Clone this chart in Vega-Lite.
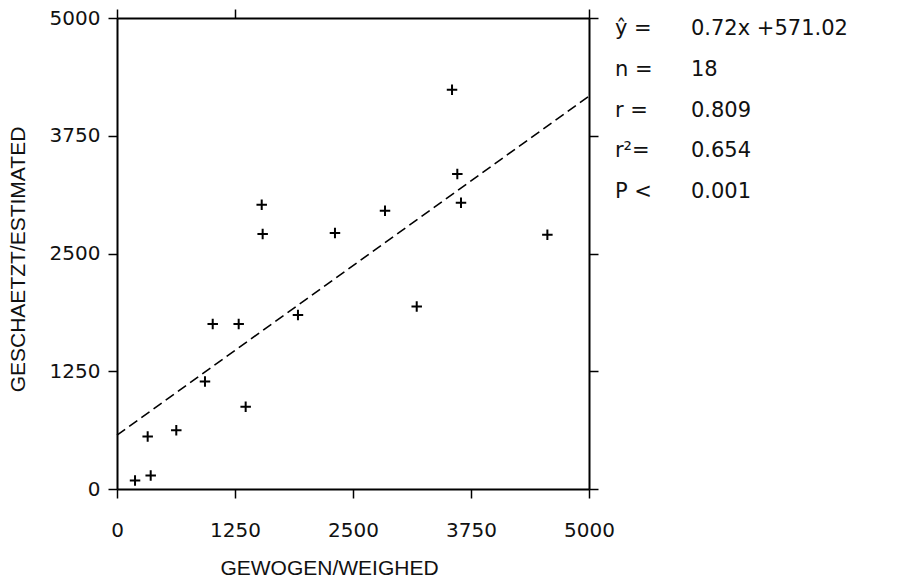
{
  "$schema": "https://vega.github.io/schema/vega-lite/v6.json",
  "width": 472,
  "height": 471,
  "autosize": {"type": "none"},
  "padding": {"left": 117, "top": 18, "right": 329, "bottom": 93},
  "background": "white",
  "config": {"view": {"stroke": null}},
  "datasets": {
    "points": [
      {"weighed": 191, "estimated": 91},
      {"weighed": 357, "estimated": 144},
      {"weighed": 325, "estimated": 558},
      {"weighed": 628, "estimated": 624},
      {"weighed": 932, "estimated": 1142},
      {"weighed": 1014, "estimated": 1752},
      {"weighed": 1289, "estimated": 1752},
      {"weighed": 1363, "estimated": 874},
      {"weighed": 1533, "estimated": 3018},
      {"weighed": 1543, "estimated": 2707},
      {"weighed": 1917, "estimated": 1847},
      {"weighed": 2309, "estimated": 2718},
      {"weighed": 2839, "estimated": 2954},
      {"weighed": 3175, "estimated": 1938},
      {"weighed": 3549, "estimated": 4239},
      {"weighed": 3605, "estimated": 3344},
      {"weighed": 3644, "estimated": 3039},
      {"weighed": 4559, "estimated": 2700}
    ],
    "fit": [
      {"x_start": 0, "y_start": 571.02, "x_end": 5000, "y_end": 4171.02}
    ],
    "stats": [
      {"line": 1, "label": "ŷ =", "value": "0.72x +571.02"},
      {"line": 2, "label": "n =", "value": "18"},
      {"line": 3, "label": "r =", "value": "0.809"},
      {"line": 4, "label": "r²=", "value": "0.654"},
      {"line": 5, "label": "P <", "value": "0.001"}
    ]
  },
  "resolve": {
    "scale": {"y": "independent"},
    "axis": {"x": "independent", "y": "independent"}
  },
  "layer": [
    {
      "data": {"name": "points"},
      "mark": {
        "type": "point",
        "shape": "M-1,0H1M0,-1V1",
        "size": 110,
        "filled": false,
        "stroke": "black",
        "strokeWidth": 2,
        "opacity": 1
      },
      "encoding": {
        "x": {
          "field": "weighed",
          "type": "quantitative",
          "scale": {"domain": [0, 5000], "nice": false, "zero": false},
          "axis": {
            "orient": "bottom",
            "values": [0, 1250, 2500, 3750, 5000],
            "format": "d",
            "grid": false,
            "domainColor": "black",
            "domainWidth": 2,
            "tickColor": "black",
            "tickWidth": 1.5,
            "tickSize": 9,
            "labelFont": "DejaVu Sans",
            "labelFontSize": 20,
            "labelColor": "#111",
            "labelPadding": 22,
            "labelFlush": false,
            "title": "GEWOGEN/WEIGHED",
            "titleFont": "Liberation Sans",
            "titleFontSize": 21,
            "titleFontWeight": "normal",
            "titleColor": "#111",
            "titleX": 212,
            "titleY": 79,
            "titleBaseline": "middle",
            "titleAlign": "center"
          }
        },
        "y": {
          "field": "estimated",
          "type": "quantitative",
          "scale": {"domain": [0, 5000], "nice": false, "zero": false},
          "axis": {
            "orient": "left",
            "values": [0, 1250, 2500, 3750, 5000],
            "format": "d",
            "grid": false,
            "domainColor": "black",
            "domainWidth": 2,
            "tickColor": "black",
            "tickWidth": 1.5,
            "tickSize": 9,
            "labelFont": "DejaVu Sans",
            "labelFontSize": 20,
            "labelColor": "#111",
            "labelPadding": 8,
            "labelFlush": false,
            "title": "GESCHAETZT/ESTIMATED",
            "titleFont": "Liberation Sans",
            "titleFontSize": 21,
            "titleFontWeight": "normal",
            "titleColor": "#111",
            "titleAngle": -90,
            "titleX": -99,
            "titleY": 241,
            "titleBaseline": "middle",
            "titleAlign": "center"
          }
        }
      }
    },
    {
      "data": {"name": "fit"},
      "mark": {"type": "rule", "stroke": "black", "strokeWidth": 1.6, "strokeDash": [10, 5]},
      "encoding": {
        "x": {
          "field": "x_start",
          "type": "quantitative",
          "scale": {"domain": [0, 5000], "nice": false, "zero": false},
          "axis": {
            "orient": "top",
            "values": [0, 1250, 5000],
            "grid": false,
            "labels": false,
            "title": null,
            "domainColor": "black",
            "domainWidth": 2,
            "tickColor": "black",
            "tickWidth": 1.5,
            "tickSize": 9
          }
        },
        "x2": {"field": "x_end"},
        "y": {
          "field": "y_start",
          "type": "quantitative",
          "scale": {"domain": [0, 5000], "nice": false, "zero": false},
          "axis": {
            "orient": "right",
            "values": [0, 1250, 2500, 3750, 5000],
            "grid": false,
            "labels": false,
            "title": null,
            "domainColor": "black",
            "domainWidth": 2,
            "tickColor": "black",
            "tickWidth": 1.5,
            "tickSize": 9
          }
        },
        "y2": {"field": "y_end"}
      }
    },
    {
      "data": {"name": "stats"},
      "mark": {
        "type": "text",
        "align": "left",
        "baseline": "middle",
        "font": "DejaVu Sans",
        "fontSize": 21,
        "color": "#111"
      },
      "encoding": {
        "x": {"datum": 5275, "type": "quantitative", "axis": null},
        "y": {
          "field": "line",
          "type": "ordinal",
          "scale": {"type": "point", "range": [11, 174], "padding": 0},
          "axis": null
        },
        "text": {"field": "label"}
      }
    },
    {
      "data": {"name": "stats"},
      "mark": {
        "type": "text",
        "align": "left",
        "baseline": "middle",
        "font": "DejaVu Sans",
        "fontSize": 21,
        "color": "#111"
      },
      "encoding": {
        "x": {"datum": 6080, "type": "quantitative", "axis": null},
        "y": {
          "field": "line",
          "type": "ordinal",
          "scale": {"type": "point", "range": [11, 174], "padding": 0},
          "axis": null
        },
        "text": {"field": "value"}
      }
    }
  ]
}
